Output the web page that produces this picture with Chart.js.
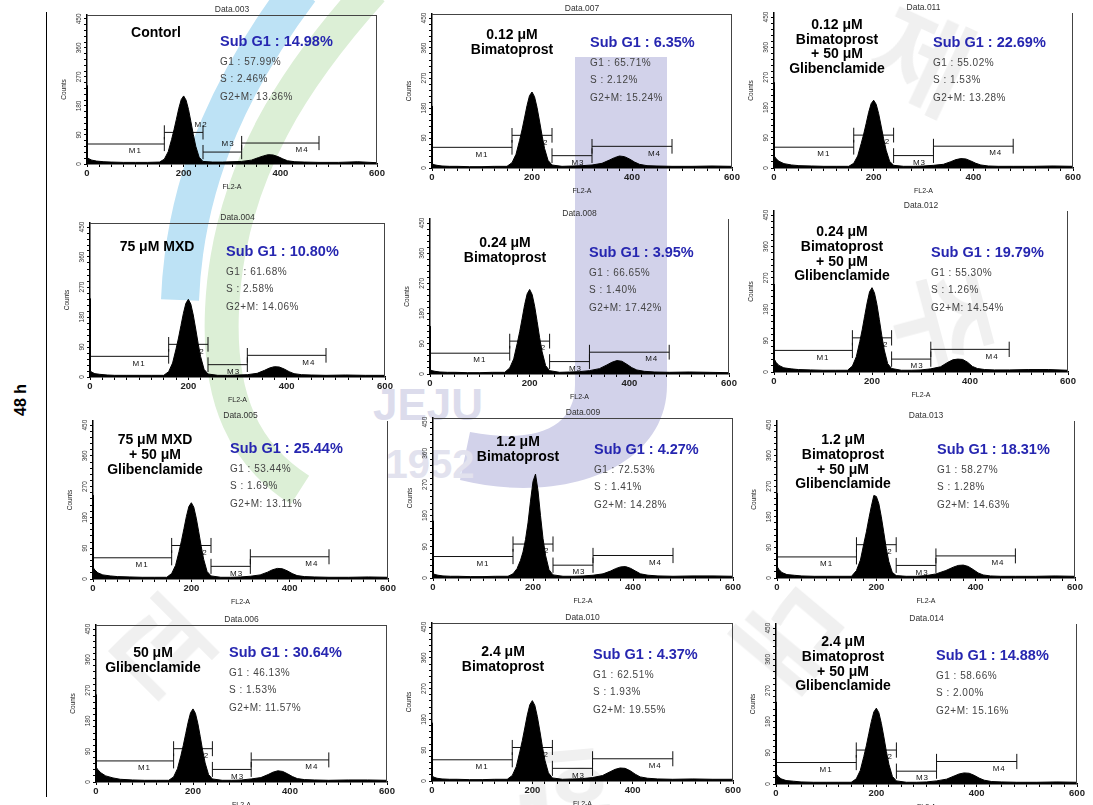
<!DOCTYPE html>
<html>
<head>
<meta charset="utf-8">
<script src="https://cdn.jsdelivr.net/npm/chart.js@4.4.1/dist/chart.umd.min.js"></script>
<style>
  body { margin: 0; width: 1093px; height: 805px; overflow: hidden; position: relative; background: #fff;
         font-family: Arial, "Liberation Sans", sans-serif; }
  #wm { position: absolute; left: 0; top: 0; }
  .panel { position: absolute; }
  #timeline { position: absolute; left: 46px; top: 12px; width: 0; height: 785px; border-left: 1.5px solid #000; }
  #timelabel { position: absolute; left: 21px; top: 400px; transform: translate(-50%, -50%) rotate(-90deg);
               font-weight: bold; font-size: 16px; white-space: nowrap; }
</style>
</head>
<body>
<svg id="wm" width="1093" height="805">
  <path d="M 300 -10 C 240 70, 185 170, 180 300" stroke="#bde2f5" stroke-width="38" fill="none"/>
  <path d="M 372 -10 C 300 70, 228 170, 222 310 C 218 400, 245 455, 300 490" stroke="#dcefd6" stroke-width="34" fill="none"/>
  <path d="M 575 57 L 667 57 L 667 385 C 667 470, 560 505, 460 480 L 470 432 C 540 445, 575 425, 575 385 Z" fill="#d2d2ea"/>
  <text x="428" y="420" font-size="44" font-weight="bold" fill="#dcdcec" text-anchor="middle" font-family="Arial">JEJU</text>
  <text x="430" y="478" font-size="40" font-weight="bold" fill="#e2e2ee" text-anchor="middle" font-family="Arial">1952</text>
  <g font-family="Noto Sans CJK KR" font-size="105" font-weight="bold" fill="#000" opacity="0.06" text-anchor="middle">
    <text transform="translate(905,95) rotate(25)">제</text>
    <text transform="translate(905,330) rotate(75)">주</text>
    <text transform="translate(760,610) rotate(130)">대</text>
    <text transform="translate(560,740) rotate(175)">학</text>
    <text transform="translate(190,620) rotate(225)">교</text>
  </g>
</svg>
<div id="timeline"></div>
<div id="timelabel">48 h</div>

<script>
// FL2-A channel positions shared by all histograms
const channels = [0, 1, 4, 10, 20, 35, 50, 75, 100, 125, 150, 160, 168, 175, 180, 185, 190, 195, 200, 205,
                  210, 215, 220, 225, 232, 240, 260, 280, 300, 320, 340, 355, 365, 375, 385, 395, 405, 415, 430, 450,
                  480, 520, 560, 600];

// counts per channel
const counts003 = [243, 20, 16, 12, 9, 7, 6, 5, 5, 5, 6, 15, 38, 76, 106, 139, 173, 200, 211, 198, 169, 131, 91, 55, 21, 8, 6, 6, 7, 8, 12, 20, 25, 29, 28, 23, 16, 10, 7, 6, 5, 5, 7, 4];
const counts007 = [186, 12, 10, 8, 6, 5, 5, 4, 4, 5, 5, 16, 41, 82, 114, 150, 187, 217, 228, 214, 182, 141, 98, 59, 23, 9, 5, 6, 7, 9, 14, 24, 31, 36, 34, 27, 18, 11, 7, 6, 5, 5, 6, 5];
const counts011 = [255, 35, 28, 20, 13, 9, 7, 6, 5, 5, 5, 14, 36, 73, 101, 133, 166, 192, 202, 190, 162, 125, 87, 53, 20, 8, 5, 5, 6, 8, 11, 19, 25, 28, 27, 21, 14, 9, 6, 5, 5, 5, 6, 5];
const counts004 = [235, 18, 14, 10, 8, 6, 5, 5, 5, 5, 5, 16, 42, 84, 117, 154, 191, 221, 233, 219, 186, 144, 100, 61, 23, 9, 5, 5, 6, 7, 11, 20, 27, 31, 30, 24, 16, 10, 7, 6, 5, 6, 5, 5];
const counts008 = [142, 12, 10, 8, 6, 5, 5, 4, 4, 5, 5, 18, 45, 91, 126, 166, 207, 239, 252, 237, 202, 156, 108, 66, 25, 10, 5, 6, 7, 10, 16, 27, 35, 40, 38, 29, 19, 12, 8, 6, 5, 6, 5, 4];
const counts012 = [252, 36, 28, 19, 12, 9, 7, 6, 5, 5, 5, 17, 44, 87, 121, 160, 198, 230, 242, 227, 194, 150, 104, 63, 24, 10, 5, 5, 6, 9, 15, 28, 35, 37, 36, 28, 16, 10, 7, 6, 6, 7, 7, 5];
const counts005 = [245, 32, 26, 18, 12, 9, 7, 6, 5, 5, 5, 16, 40, 80, 112, 147, 183, 212, 223, 210, 178, 138, 96, 58, 22, 9, 5, 5, 6, 8, 12, 20, 27, 31, 30, 24, 16, 10, 7, 6, 5, 5, 6, 5];
const counts009 = [165, 12, 10, 8, 6, 5, 5, 4, 4, 5, 5, 12, 27, 51, 75, 111, 159, 222, 279, 300, 252, 180, 114, 66, 24, 9, 5, 5, 6, 8, 12, 20, 27, 32, 33, 28, 20, 12, 8, 6, 5, 6, 6, 5];
const counts013 = [249, 32, 25, 16, 10, 8, 6, 5, 5, 5, 5, 22, 53, 102, 136, 175, 211, 243, 240, 219, 180, 134, 87, 49, 17, 7, 5, 5, 7, 12, 22, 32, 37, 38, 34, 25, 15, 9, 6, 5, 5, 5, 6, 5];
const counts006 = [257, 42, 36, 27, 18, 12, 8, 6, 5, 5, 5, 15, 39, 77, 108, 142, 176, 204, 215, 202, 172, 133, 92, 56, 22, 9, 5, 5, 6, 9, 13, 22, 29, 33, 31, 24, 16, 10, 7, 6, 5, 6, 6, 5];
const counts010 = [170, 14, 11, 8, 6, 5, 5, 4, 4, 5, 5, 16, 42, 85, 118, 155, 193, 223, 235, 221, 188, 146, 101, 61, 24, 9, 5, 6, 7, 10, 16, 27, 34, 38, 37, 30, 20, 12, 8, 6, 5, 6, 5, 5];
const counts014 = [237, 28, 22, 15, 10, 8, 6, 5, 5, 5, 5, 15, 39, 79, 110, 145, 180, 208, 219, 206, 175, 136, 94, 57, 22, 9, 5, 5, 6, 9, 14, 23, 29, 32, 31, 25, 17, 11, 7, 6, 5, 5, 6, 5];

// panels in reading order (row by row)
const panelCounts = [counts003, counts007, counts011, counts004, counts008, counts012,
                     counts005, counts009, counts013, counts006, counts010, counts014];
const dataNames = ['Data.003', 'Data.007', 'Data.011', 'Data.004', 'Data.008', 'Data.012',
                   'Data.005', 'Data.009', 'Data.013', 'Data.006', 'Data.010', 'Data.014'];
const treatments = [
  ['Contorl'], ['0.12 μM', 'Bimatoprost'], ['0.12 μM', 'Bimatoprost', '+ 50 μM', 'Glibenclamide'],
  ['75 μM MXD'], ['0.24 μM', 'Bimatoprost'], ['0.24 μM', 'Bimatoprost', '+ 50 μM', 'Glibenclamide'],
  ['75 μM MXD', '+ 50 μM', 'Glibenclamide'], ['1.2 μM', 'Bimatoprost'], ['1.2 μM', 'Bimatoprost', '+ 50 μM', 'Glibenclamide'],
  ['50 μM', 'Glibenclamide'], ['2.4 μM', 'Bimatoprost'], ['2.4 μM', 'Bimatoprost', '+ 50 μM', 'Glibenclamide'],
];
const subG1 = ['14.98', '6.35', '22.69', '10.80', '3.95', '19.79', '25.44', '4.27', '18.31', '30.64', '4.37', '14.88'];
const g1 = ['57.99', '65.71', '55.02', '61.68', '66.65', '55.30', '53.44', '72.53', '58.27', '46.13', '62.51', '58.66'];
const sPhase = ['2.46', '2.12', '1.53', '2.58', '1.40', '1.26', '1.69', '1.41', '1.28', '1.53', '1.93', '2.00'];
const g2m = ['13.36', '15.24', '13.28', '14.06', '17.42', '14.54', '13.11', '14.28', '14.63', '11.57', '19.55', '15.16'];

// gates M1..M4 (FL2-A range, drawn at a count level)
const markerNames = ['M1', 'M2', 'M3', 'M4'];
const markerStart = [0, 160, 240, 320];
const markerEnd = [160, 240, 320, 480];
const markerLevel = [62, 98, 37, 65];

const xTicks = [0, 200, 400, 600];
const yTicks = [0, 90, 180, 270, 360, 450];

// ---- layout (pixels), not data ----
// plot left, plot right, y of 450, y of 0, top frame line
const boxes = [
  [87, 377, 19, 164, true], [432, 732, 18, 168, true], [774, 1073, 17, 168, false],
  [90, 385, 227, 377, true], [430, 729, 223, 374, false], [774, 1068, 215, 372, false],
  [93, 388, 425, 579, false], [433, 733, 422, 578, true], [777, 1075, 425, 578, false],
  [96, 387, 629, 782, true], [432, 733, 627, 781, true], [776, 1077, 628, 784, false],
];
const labelPos = [[69, 14], [80, 17], [63, 8], [67, 20], [75, 20], [68, 17], [62, 15], [85, 20], [66, 15], [57, 24], [71, 25], [67, 14]];
const statPos = [[133, 23], [158, 25], [159, 26], [136, 25], [159, 30], [157, 38], [137, 24], [161, 28], [160, 25], [133, 24], [161, 28], [160, 28]];
const markerLabelX = [100, 220, 292, 445];

const FONT = 'Arial, "Liberation Sans", sans-serif';
const Y_MAX = 462;
const AXW = 27, AXH = 27, PADT = 16, PADR = 12;

function font(size, weight) {
  return (weight || 'normal') + ' ' + size + 'px ' + FONT;
}

function drawMarkers(chart, idx) {
  const { ctx, scales: { x, y } } = chart;
  ctx.save();
  ctx.strokeStyle = '#111';
  ctx.lineWidth = 1;
  ctx.fillStyle = '#111';
  ctx.font = font(8);
  if ('letterSpacing' in ctx) ctx.letterSpacing = '1px';
  ctx.textAlign = 'center';
  ctx.textBaseline = 'middle';
  markerNames.forEach((name, i) => {
    const x1 = x.getPixelForValue(markerStart[i]);
    const x2 = x.getPixelForValue(markerEnd[i]);
    const yy = y.getPixelForValue(markerLevel[i]);
    const h = y.getPixelForValue(0) - y.getPixelForValue(22);
    ctx.beginPath();
    ctx.moveTo(x1, yy); ctx.lineTo(x2, yy);
    if (i > 0) { ctx.moveTo(x1, yy - h); ctx.lineTo(x1, yy + h); }
    ctx.moveTo(x2, yy - h); ctx.lineTo(x2, yy + h);
    ctx.stroke();
    // control panel puts M2 / M3 labels above their lines
    let lx = markerLabelX[i];
    let above = false;
    if (idx === 0 && (i === 1 || i === 2)) { above = true; if (i === 1) lx = 236; }
    ctx.fillText(name, x.getPixelForValue(lx), above ? yy - 8 : yy + 7);
  });
  ctx.restore();
}

function drawDecor(chart, idx) {
  const { ctx, chartArea: a, scales: { x, y } } = chart;
  const left = x.getPixelForValue(0);
  const top450 = y.getPixelForValue(450);
  ctx.save();
  // frame
  ctx.strokeStyle = '#444';
  ctx.lineWidth = 1;
  ctx.beginPath();
  if (boxes[idx][4]) { ctx.moveTo(a.left, a.top + 0.5); ctx.lineTo(a.right, a.top + 0.5); }
  ctx.moveTo(a.right - 0.5, a.top); ctx.lineTo(a.right - 0.5, a.bottom);
  ctx.stroke();

  // file name
  ctx.fillStyle = '#333';
  ctx.font = font(8.5);
  ctx.textAlign = 'center';
  ctx.textBaseline = 'bottom';
  ctx.fillText(dataNames[idx], (a.left + a.right) / 2, a.top - 1);

  // rotated y tick labels
  ctx.font = font(6.5);
  ctx.fillStyle = '#333';
  ctx.textBaseline = 'middle';
  yTicks.forEach((v) => {
    ctx.save();
    ctx.translate(a.left - 8, y.getPixelForValue(v));
    ctx.rotate(-Math.PI / 2);
    ctx.fillText(String(v), 0, 0);
    ctx.restore();
  });

  // treatment
  ctx.fillStyle = '#000';
  ctx.font = font(14, 'bold');
  ctx.textAlign = 'center';
  treatments[idx].forEach((line, i) => {
    ctx.fillText(line, left + labelPos[idx][0], top450 + labelPos[idx][1] + i * 14.8);
  });

  // cell cycle percentages
  const sx = left + statPos[idx][0];
  const sy = top450 + statPos[idx][1];
  ctx.textAlign = 'left';
  ctx.fillStyle = '#2626b0';
  ctx.font = font(14.5, 'bold');
  ctx.fillText('Sub G1 : ' + subG1[idx] + '%', sx, sy);
  ctx.fillStyle = '#444';
  ctx.font = font(10);
  if ('letterSpacing' in ctx) ctx.letterSpacing = '0.5px';
  ctx.fillText('G1 : ' + g1[idx] + '%', sx, sy + 20);
  ctx.fillText('S : ' + sPhase[idx] + '%', sx, sy + 37.5);
  ctx.fillText('G2+M: ' + g2m[idx] + '%', sx, sy + 55);
  ctx.restore();
}

const xMinor = [];
for (let v = 0; v <= 600; v += 25) xMinor.push(v);
const yMinor = [];
for (let v = 0; v <= 450; v += 18) yMinor.push(v);

function makePanel(idx) {
  const [pl, pr, y450, y0] = boxes[idx];
  const chartTop = y450 - (y0 - y450) * (Y_MAX - 450) / 450;
  const cv = document.createElement('canvas');
  cv.className = 'panel';
  cv.width = pr - pl + AXW + PADR;
  cv.height = Math.round(y0 - chartTop + PADT + AXH);
  cv.style.left = (pl - AXW) + 'px';
  cv.style.top = Math.round(chartTop - PADT) + 'px';
  document.body.appendChild(cv);

  const points = channels.map((c, i) => ({ x: c, y: panelCounts[idx][i] }));

  new Chart(cv.getContext('2d'), {
    type: 'line',
    data: {
      datasets: [{
        data: points,
        borderColor: '#000',
        backgroundColor: '#000',
        borderWidth: 1,
        fill: 'origin',
        pointRadius: 0,
        tension: 0,
      }],
    },
    options: {
      responsive: false,
      animation: false,
      devicePixelRatio: 1,
      layout: { padding: { top: PADT, right: PADR, left: 0, bottom: 0 } },
      plugins: { legend: { display: false }, tooltip: { enabled: false } },
      scales: {
        x: {
          type: 'linear', min: 0, max: 600,
          afterBuildTicks: (s) => { s.ticks = xMinor.map((v) => ({ value: v })); },
          afterFit: (s) => { s.height = AXH; },
          ticks: {
            autoSkip: false, maxRotation: 0, padding: 1, color: '#222',
            font: { family: FONT, size: 9.5, weight: 'bold' },
            callback: (v) => (xTicks.includes(v) ? String(v) : ''),
          },
          grid: { drawOnChartArea: false, drawTicks: true, tickLength: 3, color: '#000' },
          border: { color: '#000', width: 1.5 },
          title: { display: true, text: 'FL2-A', color: '#222', font: { family: FONT, size: 7 }, padding: { top: 0, bottom: 0 } },
        },
        y: {
          type: 'linear', min: 0, max: Y_MAX,
          afterBuildTicks: (s) => { s.ticks = yMinor.map((v) => ({ value: v })); },
          afterFit: (s) => { s.width = AXW; },
          ticks: { display: false },
          grid: { drawOnChartArea: false, drawTicks: true, tickLength: 3, color: '#000' },
          border: { color: '#000', width: 1.5 },
          title: { display: true, text: 'Counts', color: '#222', font: { family: FONT, size: 6.5 }, padding: { top: 0, bottom: 0 } },
        },
      },
    },
    plugins: [{
      id: 'panelDecor',
      beforeDatasetsDraw: (chart) => drawMarkers(chart, idx),
      afterDraw: (chart) => drawDecor(chart, idx),
    }],
  });
}

for (let i = 0; i < panelCounts.length; i++) makePanel(i);
</script>
</body>
</html>
